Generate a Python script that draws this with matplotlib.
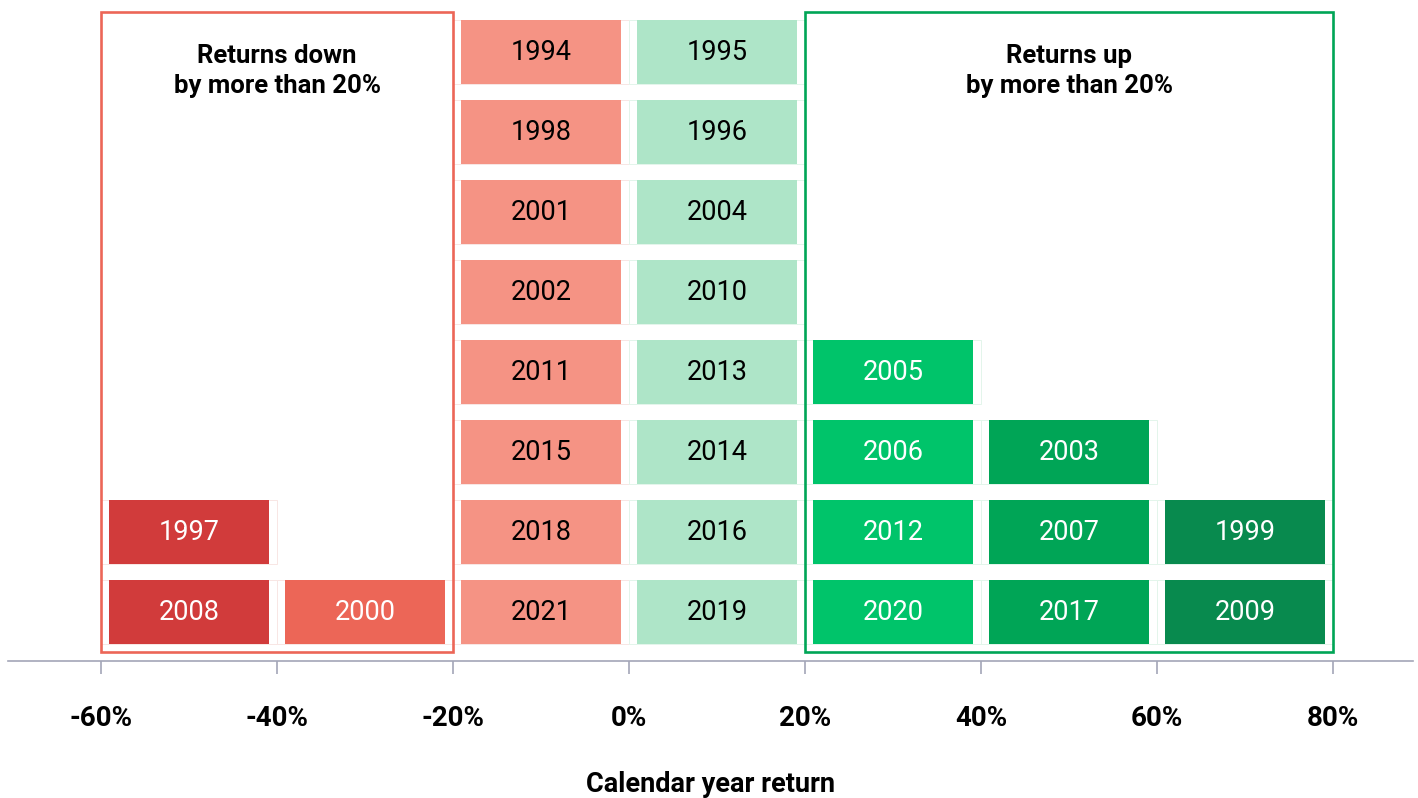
import matplotlib

matplotlib.use("Agg")
import matplotlib.pyplot as plt
from matplotlib.patches import Rectangle

# bin left edges (%) and the years in each bin, listed bottom to top
bin_edges = [-60, -40, -20, 0, 20, 40, 60]
bin_years = [
    [2008, 1997],
    [2000],
    [2021, 2018, 2015, 2011, 2002, 2001, 1998, 1994],
    [2019, 2016, 2014, 2013, 2010, 2004, 1996, 1995],
    [2020, 2012, 2006, 2005],
    [2017, 2007, 2003],
    [2009, 1999],
]
bin_colors = ["#d13b3b", "#ec6657", "#f59384", "#aee5c8", "#00c46a", "#00a556", "#088a4e"]
text_colors = ["white", "white", "black", "black", "white", "white", "white"]
grid_colors = ["#f8e6e4", "#f8e6e4", "#f8e6e4", "#e3f5eb", "#e3f5eb", "#e3f5eb", "#e3f5eb"]

tick_vals = [-60, -40, -20, 0, 20, 40, 60, 80]
tick_labels = ["-60%", "-40%", "-20%", "0%", "20%", "40%", "60%", "80%"]

BIN_W = 20
PAD_X = 0.91
PAD_Y = 0.1

plt.rcParams["font.family"] = ["Roboto", "DejaVu Sans"]

W, H = 1418, 798
fig = plt.figure(figsize=(W / 100, H / 100), dpi=100)
ax = fig.add_axes([8 / W, (H - 661) / H, 1405 / W, 661 / H])

for left, years, fc, tc, gc in zip(bin_edges, bin_years, bin_colors, text_colors, grid_colors):
    for row, yr in enumerate(years):
        # faint cell outline
        ax.add_patch(Rectangle((left, row + PAD_Y), BIN_W, 1 - 2 * PAD_Y,
                               facecolor="none", edgecolor=gc, lw=0.7, zorder=1))
        ax.add_patch(Rectangle((left + PAD_X, row + PAD_Y), BIN_W - 2 * PAD_X, 1 - 2 * PAD_Y,
                               facecolor=fc, edgecolor="none", zorder=2))
        ax.text(left + BIN_W / 2, row + 0.5, str(yr), ha="center", va="center",
                color=tc, fontsize=19.5, fontweight="normal", zorder=3)

# highlight boxes
ax.add_patch(Rectangle((-60, 0), 40, 8, facecolor="none", edgecolor="#ec6657", lw=1.9, zorder=4))
ax.add_patch(Rectangle((20, 0), 60, 8, facecolor="none", edgecolor="#00a556", lw=1.9, zorder=4))
ax.text(-40, 7.26, "Returns down\nby more than 20%", ha="center", va="center",
        fontsize=18.5, fontweight="bold", linespacing=1.3)
ax.text(50, 7.26, "Returns up\nby more than 20%", ha="center", va="center",
        fontsize=18.5, fontweight="bold", linespacing=1.3)

ax.set_xlim(-70.57, 89.09)
ax.set_ylim(-0.1125, 8.15)
for s in ["top", "right", "left"]:
    ax.spines[s].set_visible(False)
ax.spines["bottom"].set_color("#a3a6b8")
ax.spines["bottom"].set_linewidth(1.2)
ax.set_yticks([])
ax.set_xticks(tick_vals)
ax.set_xticklabels(tick_labels, fontsize=20, fontweight="bold")
ax.tick_params(axis="x", length=9, width=1.2, color="#a3a6b8", pad=23)

fig.text(710 / W, (H - 785) / H, "Calendar year return", ha="center", va="center",
         fontsize=19.5, fontweight="bold")

fig.savefig("out.png", dpi=100)
